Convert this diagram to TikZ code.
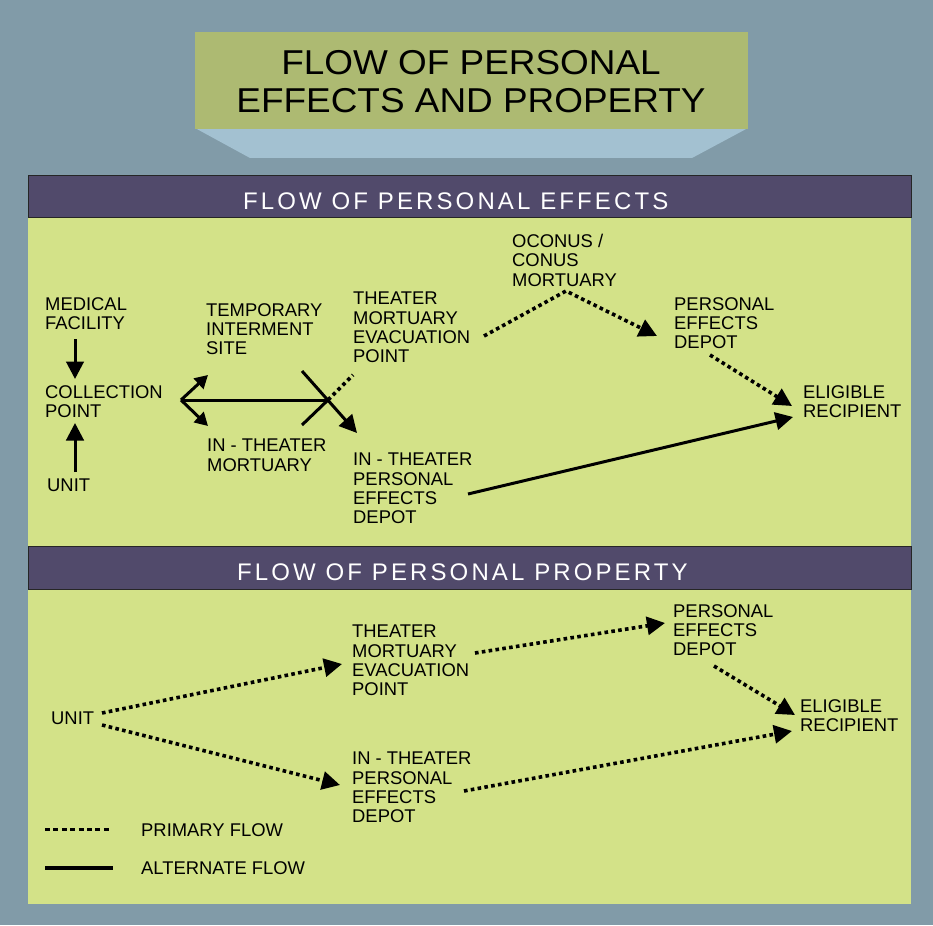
\documentclass[tikz,border=0pt]{standalone}
\usepackage{fontspec}
\setmainfont{Liberation Sans}
\usetikzlibrary{arrows.meta}
\definecolor{bgslate}{HTML}{819BA8}
\definecolor{titlegreen}{HTML}{ADBA72}
\definecolor{trapblue}{HTML}{A3C1D1}
\definecolor{hdrpurple}{HTML}{514A6B}
\definecolor{panelgreen}{HTML}{D3E288}
\begin{document}
\begin{tikzpicture}[x=1pt,y=-1pt,
  lbl/.style={anchor=north west, inner sep=0pt, align=left, font=\fontsize{18.4}{19.3}\selectfont, text=black},
  hdrtext/.style={anchor=base west, inner sep=0pt, text=white, font=\fontsize{24}{26}\selectfont\addfontfeature{LetterSpace=13}},
  solidarrow/.style={line width=3pt, -{Triangle[length=17.5pt,width=17.5pt]}},
  smallarrow/.style={line width=3pt, -{Triangle[length=13pt,width=14pt]}},
  solidline/.style={line width=3pt},
  dotline/.style={line width=3.6pt, dash pattern=on 3.6pt off 3.3pt},
  dotarrow/.style={dotline, -{Triangle[length=18pt,width=18pt]}},
  hdrbox/.style={fill=hdrpurple, draw=black!85, line width=1pt}
]
\useasboundingbox (0,0) rectangle (933,925);
% background
\fill[bgslate] (0,0) rectangle (933,925);
% title block
\fill[trapblue] (195,128) -- (748,128) -- (692,158) -- (250,158) -- cycle;
\fill[titlegreen] (195,32) rectangle (748,129);
\node[anchor=north, inner sep=0pt, align=center, font=\fontsize{34.5}{38}\selectfont] (title) at (471,50)
  {\scalebox{1.07}[1]{FLOW OF PERSONAL}\\\scalebox{1.07}[1]{EFFECTS AND PROPERTY}};
% panels
\fill[panelgreen] (28,217) rectangle (911,904);
\draw[hdrbox] (28,176) rectangle (911,218);
\draw[hdrbox] (28,546) rectangle (911,589);
\node[hdrtext] (h1) at (243,210) {FLOW OF PERSONAL EFFECTS};
\node[hdrtext] (h2) at (237,580) {FLOW OF PERSONAL PROPERTY};

% ---------- top panel nodes
\node[lbl] (med) at (45,297) {MEDICAL\\FACILITY};
\node[lbl] (coll) at (45,385) {COLLECTION\\POINT};
\node[lbl] (unitA) at (47,479) {UNIT};
\node[lbl] (tis) at (206,303) {TEMPORARY\\INTERMENT\\SITE};
\node[lbl] (itm) at (207,439) {IN - THEATER\\MORTUARY};
\node[lbl] (tmepA) at (353,292) {THEATER\\MORTUARY\\EVACUATION\\POINT};
\node[lbl] (itpedA) at (353,453) {IN - THEATER\\PERSONAL\\EFFECTS\\DEPOT};
\node[lbl] (oconus) at (512,234) {OCONUS /\\CONUS\\MORTUARY};
\node[lbl] (pedA) at (674,297) {PERSONAL\\EFFECTS\\DEPOT};
\node[lbl] (erA) at (803,385) {ELIGIBLE\\RECIPIENT};

% ---------- bottom panel nodes
\node[lbl] (unitB) at (51,712) {UNIT};
\node[lbl] (tmepB) at (352,625) {THEATER\\MORTUARY\\EVACUATION\\POINT};
\node[lbl] (itpedB) at (352,752) {IN - THEATER\\PERSONAL\\EFFECTS\\DEPOT};
\node[lbl] (pedB) at (673,604) {PERSONAL\\EFFECTS\\DEPOT};
\node[lbl] (erB) at (800,699) {ELIGIBLE\\RECIPIENT};

% legend
\node[lbl] (lgp) at (141,823) {PRIMARY FLOW};
\node[lbl] (lga) at (141,861) {ALTERNATE FLOW};
\coordinate (lgpA) at (45,829);
\coordinate (lgpB) at (112,829);
\coordinate (lgaA) at (45,868);
\coordinate (lgaB) at (113,868);
\draw[line width=3pt, dash pattern=on 5pt off 3.4pt] (lgpA) -- (lgpB);
\draw[line width=3.5pt] (lgaA) -- (lgaB);

% ---------- top panel connectors
\coordinate (medS) at (75,339);
\coordinate (collN) at (75,379);
\coordinate (unitN) at (75,472);
\coordinate (collS) at (75,423);
\draw[solidarrow] (medS) -- (collN);
\draw[solidarrow] (unitN) -- (collS);

\coordinate (collE) at (181,400);
\coordinate (tisTip) at (208,375);
\coordinate (itmTip) at (208,426);
\coordinate (cross) at (328,400);
\draw[smallarrow] (collE) -- (tisTip);
\draw[smallarrow] (collE) -- (itmTip);
\draw[solidline] (collE) -- (cross);

\coordinate (tisOut) at (302,371);
\coordinate (itpedATip) at (357,433);
\draw[solidarrow] (tisOut) -- (itpedATip);

\coordinate (itmOut) at (302,425);
\coordinate (tmepAin) at (353,375);
\draw[solidline] (itmOut) -- (cross);
\draw[dotline] (cross) -- (tmepAin);

\coordinate (tmepAout) at (484,336);
\coordinate (oconusS) at (566,291);
\coordinate (pedAtip) at (657,336);
\draw[dotarrow] (tmepAout) -- (oconusS) -- (pedAtip);

\coordinate (pedAout) at (710,355);
\coordinate (erAtip1) at (792,406);
\draw[dotarrow] (pedAout) -- (erAtip1);

\coordinate (itpedAout) at (468,494);
\coordinate (erAtip2) at (793,417);
\draw[solidarrow] (itpedAout) -- (erAtip2);

% ---------- bottom panel connectors
\coordinate (unitBa) at (102,713);
\coordinate (tmepBtip) at (342,664);
\draw[dotarrow] (unitBa) -- (tmepBtip);
\coordinate (unitBb) at (102,725);
\coordinate (itpedBtip) at (340,785);
\draw[dotarrow] (unitBb) -- (itpedBtip);
\coordinate (tmepBout) at (475,653);
\coordinate (pedBtip) at (665,623);
\draw[dotarrow] (tmepBout) -- (pedBtip);
\coordinate (pedBout) at (714,666);
\coordinate (erBtip1) at (795,715);
\draw[dotarrow] (pedBout) -- (erBtip1);
\coordinate (itpedBout) at (464,791);
\coordinate (erBtip2) at (792,731);
\draw[dotarrow] (itpedBout) -- (erBtip2);
\end{tikzpicture}
\end{document}
